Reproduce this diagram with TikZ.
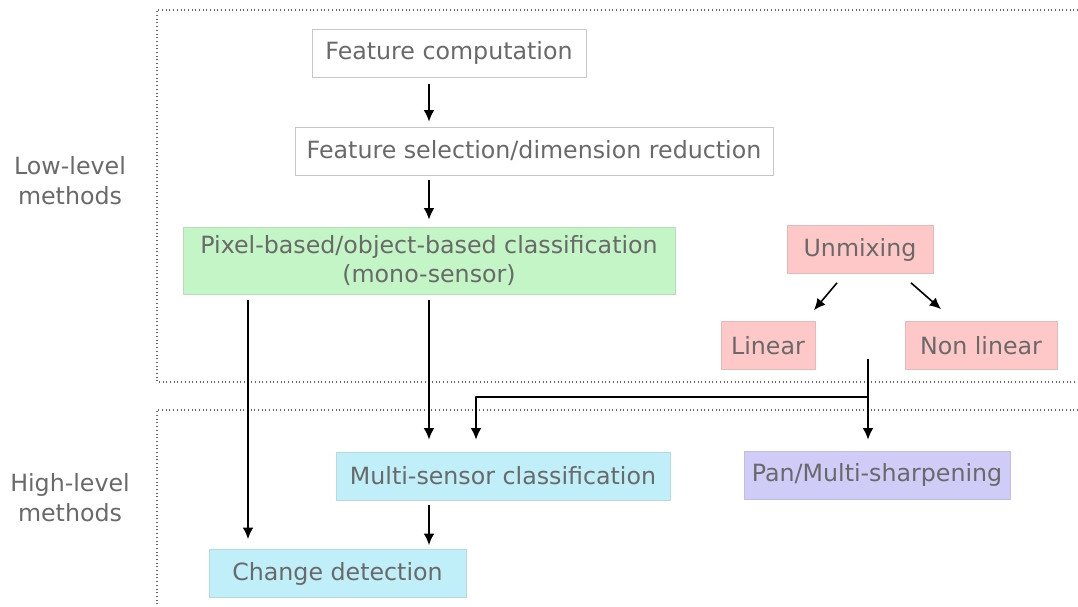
\documentclass[tikz,border=0pt]{standalone}
\usepackage{fontspec}
\setmainfont{DejaVu Sans}
\usepackage{xcolor}
\usetikzlibrary{arrows.meta}

\definecolor{boxgreen}{RGB}{196,245,198}
\definecolor{boxpink}{RGB}{255,200,200}
\definecolor{boxcyan}{RGB}{192,239,249}
\definecolor{boxlilac}{RGB}{208,204,248}
\definecolor{txtgray}{RGB}{105,105,105}

\begin{document}
\begin{tikzpicture}[x=0.02cm, y=-0.02cm, >={Latex[length=6.5pt,width=6pt]}, line join=round,
  box/.style={draw=gray!45, fill=white, text=txtgray, inner sep=0pt, minimum height=0.96cm,
    font=\fontsize{13.5}{17}\selectfont, align=center},
  colbox/.style={box, draw=#1!80!gray, fill=#1},
  flow/.style={->, line width=0.9pt},
  zone/.style={line width=0.7pt, black!60, dash pattern=on 0.5pt off 1.6pt},
  side/.style={text=txtgray, align=center, font=\fontsize{13.5}{17}\selectfont}]
  \useasboundingbox (0,0) rectangle (1078,607);

  % level zones
  \draw[zone] (1078,10) -| (157,382) -- (1078,382);
  \draw[zone] (1078,410) -| (157,607);
  \node[side] (low) at (70,181) {Low-level\\methods};
  \node[side] (high) at (70,498) {High-level\\methods};

  % boxes
  \node[box, minimum width=5.48cm] (feat) at (449,53) {Feature computation};
  \node[box, minimum width=9.56cm] (sel) at (534,151) {Feature selection/dimension reduction};
  \node[colbox=boxgreen, minimum width=9.84cm, minimum height=1.34cm] (pix) at (429,260.5)
    {Pixel-based/object-based classification\\(mono-sensor)};
  \node[colbox=boxpink, minimum width=2.92cm] (unmix) at (860,249.5) {Unmixing};
  \node[colbox=boxpink, minimum width=1.88cm] (lin) at (768,345.5) {Linear};
  \node[colbox=boxpink, minimum width=3.04cm] (nonlin) at (981,345.5) {Non linear};
  \node[colbox=boxcyan, minimum width=6.68cm] (multi) at (503,476) {Multi-sensor classification};
  \node[colbox=boxlilac, minimum width=5.32cm] (pan) at (877,475) {Pan/Multi-sharpening};
  \node[colbox=boxcyan, minimum width=5.14cm] (change) at (337.5,573.5) {Change detection};

  \coordinate (split) at (868,359);
  \coordinate (fork) at (868,397);
  \coordinate (bypass) at (248,294);

  % connectors
  \draw[flow, shorten <=0.14cm, shorten >=0.1cm] (feat.south -| pix.north) -- (sel.north -| pix.north);
  \draw[flow, shorten <=0.1cm, shorten >=0.14cm] (sel.south -| pix.north) -- (pix.north);
  \draw[flow, shorten <=0.12cm, shorten >=0.24cm] (pix.south) -- (pix.south |- multi.north);
  \draw[flow, shorten <=0.12cm, shorten >=0.2cm] (bypass) -- (bypass |- change.north);
  \draw[flow, shorten <=0.1cm, shorten >=0.08cm] (multi.south -| pix.south) -- (change.north -| pix.south);
  \draw[flow] ([xshift=-0.46cm, yshift=-0.18cm]unmix.south) -- ([xshift=0.92cm, yshift=0.22cm]lin.north);
  \draw[flow] ([xshift=1.02cm, yshift=-0.18cm]unmix.south) -- ([xshift=-0.8cm, yshift=0.24cm]nonlin.north);
  \draw[line width=0.9pt] (split) -- (fork);
  \draw[flow, shorten >=0.22cm] (fork) -- (fork |- pan.north);
  \draw[flow, shorten >=0.24cm] (fork) -| ([xshift=-0.54cm]multi.north);
\end{tikzpicture}
\end{document}
